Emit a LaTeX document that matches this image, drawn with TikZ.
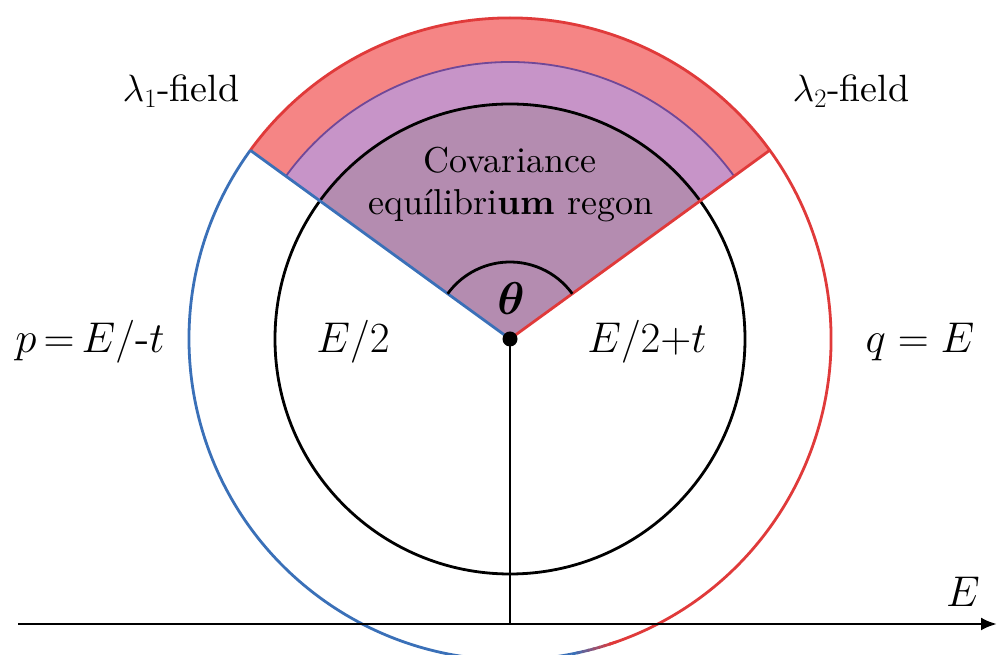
\RequirePackage{fix-cm}
\documentclass[tikz,border=0pt]{standalone}
\usepackage{fontspec}
\setmainfont{lmroman10-regular.otf}[BoldFont=lmroman10-bold.otf]
\usetikzlibrary{arrows.meta}
\definecolor{lred}{RGB}{224,58,58}
\definecolor{lblue}{RGB}{58,112,184}
\definecolor{fred}{RGB}{245,133,133}
\definecolor{fpurple}{RGB}{199,148,200}
\definecolor{finner}{RGB}{180,140,176}
\definecolor{pedge}{RGB}{112,72,152}
\begin{document}
\begin{tikzpicture}[x=1pt,y=1pt,
  lw/.style={line width=2.8pt},
  lbl/.style={anchor=base, inner sep=0pt, font=\fontsize{38}{44}\selectfont},
  mlbl/.style={anchor=base, inner sep=0pt, font=\fontsize{43}{46}\selectfont},
  tlbl/.style={anchor=base, inner sep=0pt, font=\fontsize{46}{48}\selectfont},
  clbl/.style={anchor=base, inner sep=0pt, font=\fontsize{36}{40}\selectfont}]
\useasboundingbox (0,0) rectangle (997,655);
\fill[white] (0,0) rectangle (997,655);
\coordinate (O) at (510,316);
\path (O) ++(144:321) coordinate (A);
\path (O) ++(36:321) coordinate (B);
\coordinate (F) at (510,31);
\coordinate (X0) at (18,31);
\coordinate (X1) at (997,31);
% sectors
\fill[fred] (O) -- (B) arc[start angle=36,end angle=144,radius=321] -- cycle;
\fill[fpurple] (O) -- ++(36:277) arc[start angle=36,end angle=144,radius=277] -- cycle;
\draw[pedge, line width=1.8pt] (O) ++(36:277) arc[start angle=36,end angle=144,radius=277];
\fill[finner] (O) -- ++(36:235) arc[start angle=36,end angle=144,radius=235] -- cycle;
% inner circle
\draw[lw] (O) circle[radius=235];
% outer circle
\draw[lred, lw] (O) ++(-72:321) arc[start angle=-72,end angle=144,radius=321];
\draw[lblue, lw] (O) ++(144:321) arc[start angle=144,end angle=281,radius=321];
\foreach \i in {0,...,7}{
  \pgfmathtruncatemacro{\pc}{\i*100/7}
  \draw[lw, color=lred!\pc!lblue] (O) ++(281+\i:321) arc[start angle=281+\i,end angle=282.3+\i,radius=321];
}
% wedge lines
\draw[lblue, lw] (O) -- (A);
\draw[lred, lw] (O) -- (B);
% theta arc
\draw[lw] (O) ++(36:77) arc[start angle=36,end angle=144,radius=77];
% vertical and axis
\draw[lw] (O) -- (F);
\draw[lw, -{Latex[length=16pt,width=13pt]}] (X0) -- (X1);
\node[circle, fill=black, inner sep=0pt, minimum size=15pt] (dot) at (O) {};
% labels
\node[lbl] (l1) at (181,553) {$\lambda_1$-field};
\node[lbl] (l2) at (851,553) {$\lambda_2$-field};
\node[clbl] (cov) at (510,482) {Covariance};
\node[clbl] (eq) at (511,440) {equílibri\textbf{um} regon};
\node[tlbl] (th) at (511,340) {\mbox{\boldmath$\theta$}};
\node[mlbl] (p) at (90,302) {$p\,{=}\,E/\mbox{-}t$};
\node[mlbl] (e2) at (353,302) {$E/2$};
\node[mlbl] (e2t) at (647,302) {$E/2{+}t$};
\node[mlbl] (q) at (920,302) {$q\;{=}\;E$};
\node[mlbl] (ax) at (963,48) {$E$};
\end{tikzpicture}
\end{document}
